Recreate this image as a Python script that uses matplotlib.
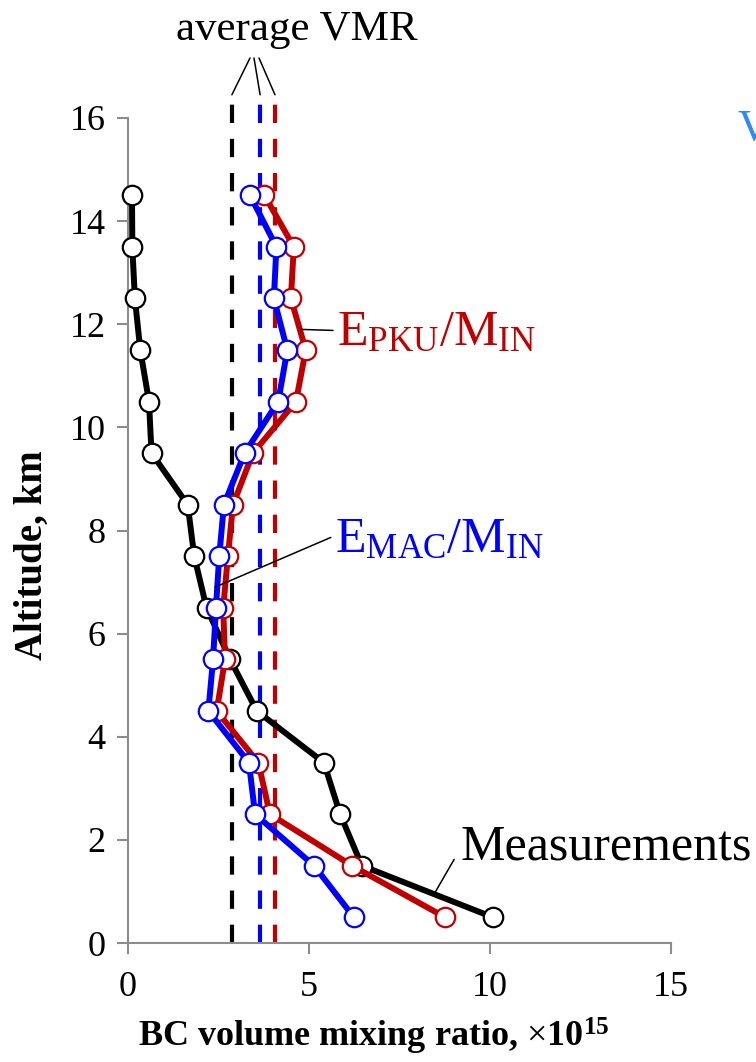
import matplotlib
matplotlib.use("Agg")
import matplotlib.pyplot as plt

plt.rcParams['font.family'] = ['Liberation Serif', 'DejaVu Serif']
plt.rcParams['mathtext.fontset'] = 'custom'
plt.rcParams['mathtext.rm'] = 'Liberation Serif'
plt.rcParams['mathtext.it'] = 'Liberation Serif:italic'
plt.rcParams['mathtext.bf'] = 'Liberation Serif:bold'

altitude = [0.5, 1.5, 2.5, 3.5, 4.5, 5.5, 6.5, 7.5, 8.5, 9.5, 10.5, 11.5, 12.5, 13.5, 14.5]
measurements = [10.08, 6.46, 5.86, 5.41, 3.56, 2.82, 2.17, 1.83, 1.65, 0.65, 0.58, 0.34, 0.19, 0.12, 0.11]
e_pku = [8.76, 6.19, 3.92, 3.60, 2.45, 2.68, 2.63, 2.76, 2.90, 3.45, 4.64, 4.91, 4.50, 4.58, 3.77]
e_mac = [6.24, 5.14, 3.51, 3.34, 2.22, 2.35, 2.43, 2.52, 2.65, 3.22, 4.15, 4.40, 4.03, 4.10, 3.37]
avg_vmr = [2.87, 3.65, 4.06]
avg_colors = ['black', '#0000FF', '#C00000']

x_ticks = [0, 5, 10, 15]
y_ticks = [0, 2, 4, 6, 8, 10, 12, 14, 16]

fig = plt.figure(figsize=(7.56, 10.62), dpi=100)
ax = fig.add_axes([0.1693, 0.1120, 0.8876 - 0.1693, 0.8889 - 0.1120])

for xv, c in zip(avg_vmr, avg_colors):
    ax.plot([xv, xv], [0, 16.45], ls=(0, (4.4, 3.8)), lw=3.0, color=c, clip_on=False, zorder=2)

for vals, c in [(measurements, 'black'), (e_pku, '#C00000'), (e_mac, '#0000FF')]:
    ax.plot(vals, altitude, '-o', color=c, lw=4.3, ms=14, mfc='white', mec=c, mew=1.6,
            clip_on=False, zorder=3)

ax.set_xlim(0, 15)
ax.set_ylim(0, 16)
ax.set_xticks(x_ticks)
ax.set_yticks(y_ticks)
for s in ['top', 'right']:
    ax.spines[s].set_visible(False)
for s in ['left', 'bottom']:
    ax.spines[s].set_color('#8c8c8c')
    ax.spines[s].set_linewidth(1.5)
ax.tick_params(axis='both', colors='#8c8c8c', length=8, width=1.5, labelsize=26,
               labelcolor='black', direction='out')
ax.tick_params(axis='x', pad=12)
ax.tick_params(axis='y', pad=8)

ax.set_ylabel('Altitude, km', fontsize=28, fontweight='bold')
ax.set_xlabel(r'BC volume mixing ratio, $\times$10$^{\mathbf{15}}$', fontsize=26,
              fontweight='bold')
ax.yaxis.set_label_coords(-0.142, 0.47)
ax.xaxis.set_label_coords((374 - 128) / 543, -0.088)

# average VMR annotation
fig.text(297 / 756, 1 - 30 / 1062, 'average VMR', fontsize=31, ha='center', va='center')
starts = [250, 254, 259]
for xv, sx in zip(avg_vmr, starts):
    ax.annotate('', xy=(xv, 16.45), xycoords='data',
                xytext=(sx / 756, 1 - 58 / 1062), textcoords='figure fraction',
                annotation_clip=False,
                arrowprops=dict(arrowstyle='-', color='black', lw=1.1, shrinkA=0, shrinkB=0))

# series labels
ax.annotate(r'E$_{\mathrm{PKU}}$/M$_{\mathrm{IN}}$', xy=(4.78, 11.9), xytext=(337 / 756, 1 - 345 / 1062),
            textcoords='figure fraction', color='#C00000', fontsize=36, ha='left', va='baseline',
            arrowprops=dict(arrowstyle='-', color='black', lw=1.1, shrinkA=0, shrinkB=0,
                            relpos=(-0.02, 0.55)))
ax.annotate(r'E$_{\mathrm{MAC}}$/M$_{\mathrm{IN}}$', xy=(2.4, 6.9), xytext=(335 / 756, 1 - 552 / 1062),
            textcoords='figure fraction', color='#0000FF', fontsize=36, ha='left', va='baseline',
            arrowprops=dict(arrowstyle='-', color='black', lw=1.1, shrinkA=0, shrinkB=0,
                            relpos=(-0.02, 0.55)))
ax.annotate('Measurements', xy=(8.48, 0.98), xytext=(460 / 756, 1 - 860 / 1062),
            textcoords='figure fraction', color='black', fontsize=36, ha='left', va='baseline',
            arrowprops=dict(arrowstyle='-', color='black', lw=1.1, shrinkA=0, shrinkB=0,
                            relpos=(-0.02, 0.25)))

fig.text(738 / 756, 1 - 140 / 1062, 'V', color='#2E8BEF', fontsize=32, ha='left', va='baseline')

fig.savefig('out.png', dpi=100)
